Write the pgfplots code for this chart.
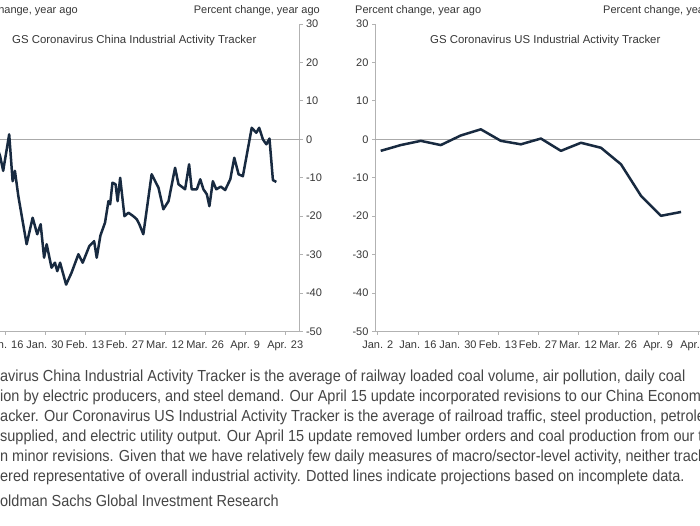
\documentclass[border=0pt]{standalone}
\usepackage{pgfplots}
\pgfplotsset{compat=1.18}
\usepackage{fontspec}
\setmainfont{Liberation Sans}
\newfontfamily\capfont{Liberation Sans}[FakeStretch=0.905]
\definecolor{navy}{RGB}{24,42,64}
\definecolor{axgray}{RGB}{178,178,178}
\definecolor{zgray}{RGB}{170,170,170}
\definecolor{txt}{RGB}{55,55,55}
\definecolor{captxt}{RGB}{70,70,70}

\pgfplotstableread{
d v
13.0 -1.5
14.3 -4.3
15.4 -8.2
17.5 1.3
18.7 -10.9
19.5 -8.2
20.7 -14.8
23.6 -27.3
25.7 -20.4
27.3 -24.7
28.5 -22.1
29.7 -30.8
30.6 -27.3
32.3 -33.4
33.5 -32.1
34.3 -34.3
35.3 -32.1
37.4 -37.8
39.3 -34.7
41.7 -29.9
43.2 -32.1
45.5 -27.8
47.2 -26.5
48.1 -30.8
49.4 -25.0
51.0 -21.7
52.2 -16.1
52.8 -16.9
53.6 -11.3
54.7 -11.7
55.4 -16.1
56.3 -10.0
57.8 -20.0
59.2 -19.1
60.9 -20.0
62.1 -20.8
63.0 -22.1
64.4 -24.7
67.3 -9.1
69.7 -12.6
71.4 -18.2
73.2 -16.1
75.5 -7.4
76.7 -11.7
79.0 -13.0
80.4 -6.5
81.3 -13.0
83.1 -13.0
84.3 -10.4
85.4 -13.0
86.6 -14.3
87.5 -17.4
88.7 -10.9
89.9 -13.0
91.5 -12.3
93.0 -13.2
94.8 -10.4
96.2 -4.8
97.7 -9.1
99.2 -9.6
102.3 3.0
103.9 1.7
104.9 3.0
106.2 0.0
107.4 -1.3
108.5 0.2
109.7 -10.6
110.9 -11.1
}\chinadata

\pgfplotstableread{
d v
3 -3.0
10 -1.5
17 -0.4
24 -1.5
31 1.0
38 2.6
45 -0.4
52 -1.3
59 0.2
66 -3.0
73 -0.9
80 -2.2
87 -6.5
94 -14.7
101 -19.9
108 -18.9
}\usdata

\pgfplotsset{gsax/.style={
  scale only axis, width=337.5pt, height=307.5pt,
  xmin=1, xmax=119, ymin=-50, ymax=30,
  axis x line*=bottom,
  ytick={-50,-40,...,30},
  xtick={2,16,30,44,58,72,86,100,114},
  xticklabels={Jan. 2,Jan. 16,Jan. 30,Feb. 13,Feb. 27,Mar. 12,Mar. 26,Apr. 9,Apr. 23},
  tick align=outside, major tick length=3pt,
  tick style={axgray, line width=0.8pt},
  axis line style={axgray, line width=1pt},
  tick label style={font=\fontsize{11}{13}\selectfont, text=txt},
  xticklabel style={yshift=-2pt, text height=8pt, text depth=2pt, inner xsep=0pt},
  /pgf/number format/assume math mode=true,
  clip=false,
}}

\begin{document}
\begin{tikzpicture}
\clip (0pt,0pt) rectangle (700pt,525pt);
\fill[white] (0pt,0pt) rectangle (700pt,525pt);

\begin{axis}[gsax, at={(-38pt,193.5pt)}, anchor=south west, axis y line*=right]
\addplot[zgray, line width=1.6pt, forget plot] coordinates {(1,0) (119,0)};
\addplot[navy, line width=2.5pt, line join=round] table[x=d,y=v] {\chinadata};
\end{axis}

\begin{axis}[gsax, at={(375pt,193.5pt)}, anchor=south west, axis y line*=left]
\addplot[zgray, line width=1.6pt, forget plot] coordinates {(1,0) (119,0)};
\addplot[navy, line width=2.5pt, line join=round] table[x=d,y=v] {\usdata};
\end{axis}

\begin{scope}[every node/.style={inner sep=0pt, text=txt, font=\fontsize{11}{13}\selectfont}]
\node[anchor=base east] at (78pt,511pt) {Percent change, year ago};
\node[anchor=base east] at (320pt,511pt) {Percent change, year ago};
\node[anchor=base west] at (355pt,511pt) {Percent change, year ago};
\node[anchor=base west] at (603pt,511pt) {Percent change, year ago};
\node[anchor=base west, font=\fontsize{11.4}{13}\selectfont] at (12pt,481pt) {GS Coronavirus China Industrial Activity Tracker};
\node[anchor=base west, font=\fontsize{11.4}{13}\selectfont] at (430pt,481pt) {GS Coronavirus US Industrial Activity Tracker};
\end{scope}

\begin{scope}[every node/.style={inner sep=0pt, anchor=base west, text=captxt, font=\capfont\fontsize{16}{18}\selectfont}]
\node at (0pt,144pt) {\llap{Note: Our Coron}avirus China Industrial Activity Tracker is the average of railway loaded coal volume, air pollution, daily coal};
\node at (0pt,124pt) {\llap{consumpt}ion by electric producers, and steel demand. Our April 15 update incorporated revisions to our China Economic Activity};
\node at (0pt,104pt) {\llap{Tr}acker. Our Coronavirus US Industrial Activity Tracker is the average of railroad traffic, steel production, petroleum products};
\node at (0pt,84pt) {supplied, and electric utility output. Our April 15 update removed lumber orders and coal production from our trackers};
\node at (0pt,64pt) {\llap{which resulted i}n minor revisions. Given that we have relatively few daily measures of macro/sector-level activity, neither tracker};
\node at (0pt,44pt) {\llap{should be consid}ered representative of overall industrial activity. Dotted lines indicate projections based on incomplete data.};
\node at (0pt,19pt) {\llap{Source: G}oldman Sachs Global Investment Research};
\end{scope}
\end{tikzpicture}
\end{document}
